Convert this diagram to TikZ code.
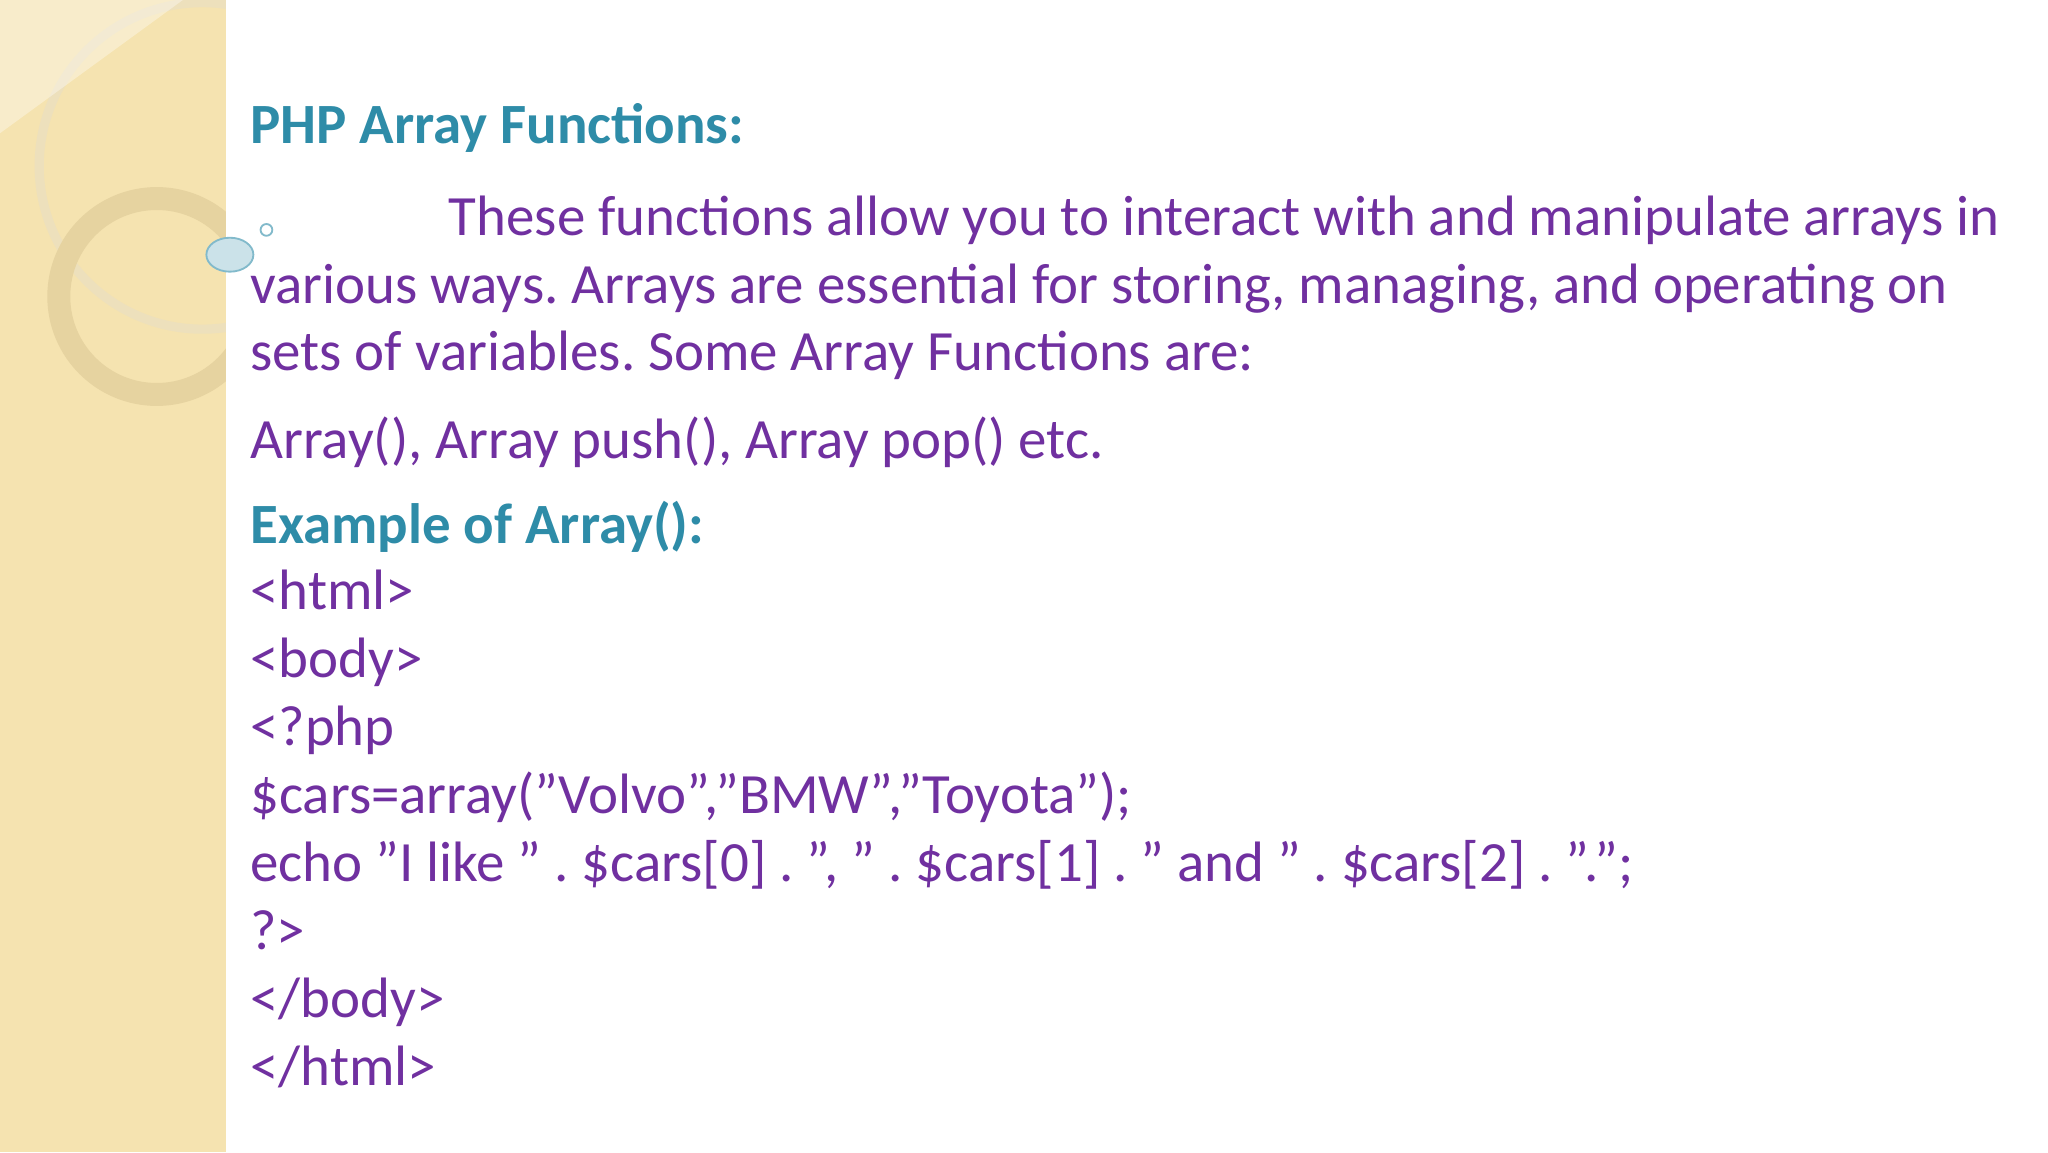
\documentclass[tikz,border=0pt]{standalone}
\usepackage{fontspec}
\usetikzlibrary{shapes.geometric}
\setmainfont{Carlito}[Ligatures=ResetAll]
\definecolor{txt}{HTML}{7030A0}
\definecolor{ttl}{HTML}{2E8CA8}
\definecolor{strip}{HTML}{F5E3B0}
\definecolor{ring}{HTML}{E6D3A0}
\newcommand{\qq}{\symbol{34}}
\begin{document}
\begin{tikzpicture}[x=1cm,y=1cm,
  body/.style={anchor=base west,inner sep=0pt,text=txt,font=\frenchspacing\fontsize{12.4}{15}\selectfont},
  ttlstyle/.style={anchor=base west,inner sep=0pt,text=ttl,font=\bfseries\fontsize{12.4}{15}\selectfont}]
\useasboundingbox (0,0) rectangle (15.68,8.82);
\fill[white] (0,0) rectangle (15.68,8.82);
\fill[strip] (0,0) rectangle (1.73,8.82);
\begin{scope}
\clip (0,0) rectangle (1.73,8.82);
\draw[ring!70!white,line width=2pt] (1.55,7.55) circle (1.25);
\draw[ring,line width=5pt] (1.2,6.55) ellipse (0.75 and 0.75);
\fill[white,opacity=0.35] (0,7.8) -- (1.4,8.82) -- (0,8.82) -- cycle;
\end{scope}
\node[draw=ttl!60,fill=ttl!25,ellipse,minimum width=0.36cm,minimum height=0.26cm,inner sep=0pt] (b1) at (1.76,6.87) {};
\node[draw=ttl!60,circle,minimum size=0.09cm,inner sep=0pt] (b2) at (2.04,7.06) {};
\node[ttlstyle] (t1) at (1.91,7.72) {PHP Array Functions:};
\node[body] (p1) at (3.43,7.02) {These functions allow you to interact with and manipulate arrays in};
\node[body] (p2) at (1.91,6.50) {various ways. Arrays are essential for storing, managing, and operating on};
\node[body] (p3) at (1.91,5.98) {sets of variables. Some Array Functions are:};
\node[body] (p4) at (1.91,5.31) {Array(), Array push(), Array pop() etc.};
\node[ttlstyle] (t2) at (1.91,4.66) {Example of Array():};
\node[body] (c1) at (1.91,4.15) {<html>};
\node[body] (c2) at (1.91,3.63) {<body>};
\node[body] (c3) at (1.91,3.11) {<?php};
\node[body] (c4) at (1.91,2.59) {\$cars=array(\qq Volvo\qq,\qq BMW\qq,\qq Toyota\qq);};
\node[body] (c5) at (1.91,2.07) {echo \qq I like \qq\ . \$cars[0] . \qq, \qq\ . \$cars[1] . \qq\ and \qq\ . \$cars[2] . \qq.\qq;};
\node[body] (c6) at (1.91,1.55) {?>};
\node[body] (c7) at (1.91,1.03) {</body>};
\node[body] (c8) at (1.91,0.51) {</html>};
\end{tikzpicture}
\end{document}
